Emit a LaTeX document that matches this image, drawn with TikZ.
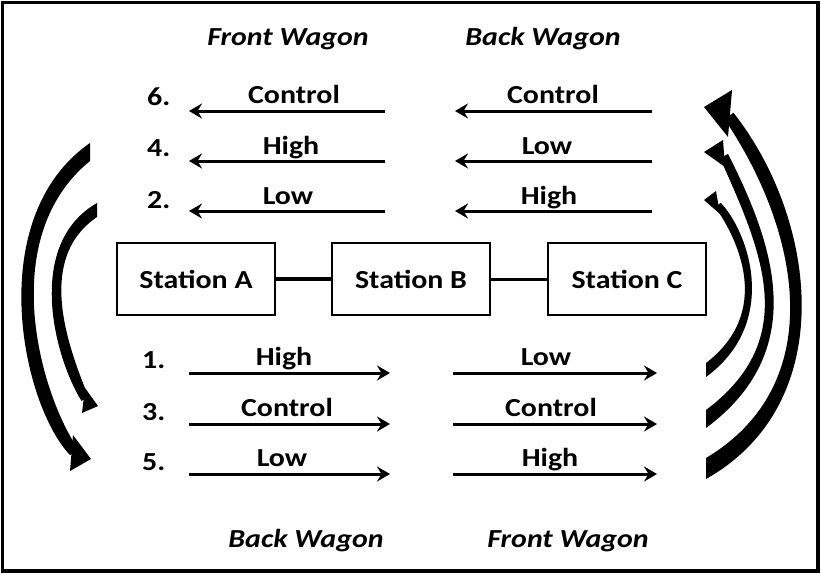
\documentclass[tikz,border=0pt]{standalone}
\usepackage{fontspec}
\setmainfont{Carlito}[FakeStretch=1.15]
\usetikzlibrary{arrows.meta,calc}

% tapered thick curved stroke: #1/#2 the two corners of the blunt end,
% #3,#4 control points, #5 end point, #6 half width at #3, #7 half width at #4,
% #8 half width at the end point
\newcommand\taperarc[8]{%
  \coordinate (tpm) at ($#1!0.5!#2$);
  \coordinate (tp1a) at ($#3!#6!-90:(tpm)$);
  \coordinate (tp1b) at ($#3!#6!90:(tpm)$);
  \coordinate (tp2a) at ($#4!#7!90:#5$);
  \coordinate (tp2b) at ($#4!#7!-90:#5$);
  \coordinate (tp3a) at ($#5!#8!-90:#4$);
  \coordinate (tp3b) at ($#5!#8!90:#4$);
  \fill #1 .. controls (tp1a) and (tp2a) .. (tp3a) -- (tp3b)
        .. controls (tp2b) and (tp1b) .. #2 -- cycle;}

\begin{document}
\begin{tikzpicture}[x=1pt,y=-1pt,
  every node/.style={font=\fontsize{26}{30}\selectfont\bfseries, inner sep=0pt},
  wagon/.style={font=\fontsize{26}{30}\selectfont\bfseries\itshape},
  station/.style={draw, line width=2.5pt, minimum width=158pt, minimum height=72pt},
  flow/.style={line width=3pt, -{Stealth[length=13pt,width=15pt,inset=4.5pt]}}]

\useasboundingbox (0,0) rectangle (821,573);
\draw[line width=3.5pt] (2.5,2.5) rectangle (818,571);

% headings
\node[wagon, anchor=base] (hfw) at (288,45) {Front Wagon};
\node[wagon, anchor=base] (hbw) at (543,45) {Back Wagon};
\node[wagon, anchor=base] (fbw) at (306,547) {Back Wagon};
\node[wagon, anchor=base] (ffw) at (568,547) {Front Wagon};

% stations
\node[station] (A) at (196,279) {Station A};
\node[station] (B) at (411,279) {Station B};
\node[station] (C) at (627,279) {Station C};
\draw[line width=4.5pt] (A) -- (B);
\draw[line width=3pt] (B) -- (C);

% leftward runs
\foreach \y/\n in {111/6,161/4,211/2} {
  \coordinate (las\n) at (385,\y); \coordinate (lae\n) at (189,\y);
  \coordinate (lbs\n) at (652,\y); \coordinate (lbe\n) at (455,\y);
  \draw[flow] (las\n) -- (lae\n);
  \draw[flow] (lbs\n) -- (lbe\n);
}
% rightward runs
\foreach \y/\n in {373/1,424/3,474/5} {
  \coordinate (ras\n) at (189,\y); \coordinate (rae\n) at (390,\y);
  \coordinate (rbs\n) at (453,\y); \coordinate (rbe\n) at (657,\y);
  \draw[flow] (ras\n) -- (rae\n);
  \draw[flow] (rbs\n) -- (rbe\n);
}

% run numbers
\node[anchor=base west] (n6) at (147,105) {6.};
\node[anchor=base west] (n4) at (147,156) {4.};
\node[anchor=base west] (n2) at (147,208) {2.};
\node[anchor=base west] (n1) at (142,368) {1.};
\node[anchor=base west] (n3) at (142,420) {3.};
\node[anchor=base west] (n5) at (142,470) {5.};

% run labels
\node[anchor=base] (t6a) at (294,103) {Control};
\node[anchor=base] (t4a) at (291,154) {High};
\node[anchor=base] (t2a) at (288,204) {Low};
\node[anchor=base] (t6b) at (553,103) {Control};
\node[anchor=base] (t4b) at (547,154) {Low};
\node[anchor=base] (t2b) at (549,204) {High};
\node[anchor=base] (t1a) at (284,365) {High};
\node[anchor=base] (t3a) at (287,416) {Control};
\node[anchor=base] (t5a) at (282,466) {Low};
\node[anchor=base] (t1b) at (546,365) {Low};
\node[anchor=base] (t3b) at (551,416) {Control};
\node[anchor=base] (t5b) at (550,466) {High};

% turn-around arrows, left side
\taperarc{(90,161)}{(90,143)}{(-10.5,227.4)}{(30.4,398)}{(74,452)}{12pt}{11pt}{5pt}
\fill (91,459) -- (73,435) -- (70,471) -- cycle;
\taperarc{(97,217)}{(97,203)}{(29.6,252)}{(61.7,353)}{(85,399)}{9pt}{8.5pt}{4pt}
\fill (98,406) -- (85,388) -- (82,413) -- cycle;

% turn-around arrows, right side
\taperarc{(706,458)}{(706,479)}{(836,393)}{(808,224)}{(729,116)}{11pt}{10.5pt}{5.5pt}
\fill (704,107) -- (732,90) -- (728,137) -- cycle;
\taperarc{(706,410)}{(706,428)}{(805,345)}{(769,250)}{(724,156)}{7.5pt}{7pt}{4.5pt}
\fill (704,152) -- (723,140) -- (725,167) -- cycle;
\taperarc{(706,363)}{(706,377)}{(775.7,317.7)}{(744.4,237.3)}{(718,205)}{6.5pt}{6.5pt}{3.5pt}
\fill (704,200) -- (716,191) -- (720,214) -- cycle;
\end{tikzpicture}
\end{document}
